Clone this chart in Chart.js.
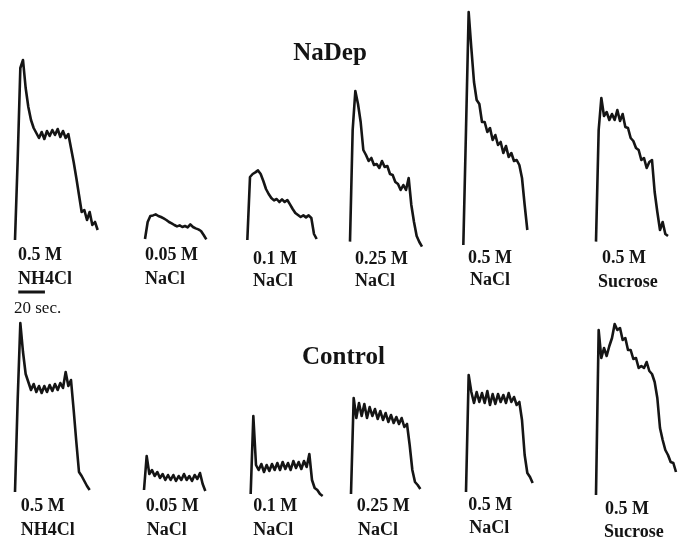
<!DOCTYPE html>
<html><head><meta charset="utf-8">
<script src="https://cdn.jsdelivr.net/npm/chart.js@4"></script>
<style>
html,body{margin:0;padding:0;background:#fff;}
#wrap{position:relative;width:684px;height:539px;overflow:hidden;background:#fff;}
canvas{position:absolute;left:0;}
.t{position:absolute;font-family:"Liberation Serif","Times New Roman",serif;color:#141414;white-space:nowrap;line-height:1;}
</style></head><body><div id="wrap">
<canvas id="topChart" width="684" height="300" style="top:0px"></canvas>
<canvas id="botChart" width="684" height="200" style="top:300px"></canvas>
</div>
<script>
// ---- DATA (response in arbitrary units, sampled every 2 s) ----
const sampleStep = 2; // seconds between samples
const concentrations = ['0.5 M','0.05 M','0.1 M','0.25 M','0.5 M','0.5 M'];
const solutes = ['NH4Cl','NaCl','NaCl','NaCl','NaCl','Sucrose'];
const groupTitles = ['NaDep','Control'];
const scaleBarSeconds = 20;
const scaleBarLabel = '20 sec.';

// NaDep row
const nadepNH4Cl   = [0,40,86,90,76,66.5,60,56,53.5,51,54,50.5,54.5,52,55,52.5,55.5,51.5,54.5,51,53,46,39,31,22.5,14,15,10,14,7.5,9,5];
const nadepNaCl005 = [0.5,9,12,12.3,12.8,12,11.5,10.8,10,9,8.3,7.5,6.8,7.3,6.5,7,6.3,7.8,6.5,5.8,5.3,4.5,2.5,0.3];
const nadepNaCl01  = [0,31.5,33,33.8,34.8,33,29.5,25.5,23,21,19.8,20.5,19,20.3,19,20,17.8,15.5,13.5,12.5,11.5,12.3,11.3,12.3,11,3,0.5];
const nadepNaCl025 = [-0.8,55,74.5,68,59,45,42.5,39.5,41,37.5,38,36,39.5,36.5,37,33,32.5,29,28,25,27.5,25,31,17.5,9,2,-1,-3.3];
const nadepNaCl05  = [-2.5,55,114,96,79,70,68,59,59,54,56,50,52.5,47.5,49,43.5,47,41.5,43.5,39.5,40,37.5,31,17.5,5];
const nadepSucrose = [-0.8,55,71,62,64,60,63,60,65,59.5,63,56.5,56,51,49.5,46,45,40,41,36,39,40,24,14,5,9,3,2];

// Control row
const ctrlNH4Cl   = [0,46,84.5,70,59,55,51,54,50,53,49.5,53,50,53.5,50.5,54,51,54.5,52,60,53,56,41,25,10,8,5.5,3,1];
const ctrlNaCl005 = [1,18,9,11,8,10,7,9,6,8.5,6,8.5,5.5,8,6,9,6,8,5.5,8.5,6.5,9.5,4,0.5];
const ctrlNaCl01  = [-1,38,13.5,11,14,10,13.5,10.5,14,11,14.5,11,15,11.5,14.5,11,15.5,12,15,11.5,15.5,12.5,19,6,2,1,-1,-2];
const ctrlNaCl025 = [-1,47,37,44.5,38,44,37,42.5,38,41.5,36.5,40.5,36,39.5,35,38.5,34.5,37.5,34,37,32.5,34,23.5,11,5,3.5,1.5];
const ctrlNaCl05  = [0,58.5,50,44.5,50,45,49.5,44.5,50.5,43.5,49,44,49,45,48.5,44.5,49.5,45,47.5,43.5,45,36,18.5,9.5,7.5,4.5];
const ctrlSucrose = [-1.5,81,67,72,68,73,77,84,81,82,76,77,71,71,66.5,67,62,63,62,65,60.5,59,55,47,32,26,21,18.5,15,14.5,10];

// ---- LAYOUT ----
const topStarts = [11.25,108.75,185.5,262.5,347.5,447];   // trace start times (s) on shared time axis
const botStarts = [11.25,108,188,263.25,349.5,447];
const scaleBarStart = 13.7;
const scaleBarLevel = -26;

const topSeries = [nadepNH4Cl,nadepNaCl005,nadepNaCl01,nadepNaCl025,nadepNaCl05,nadepSucrose];
const botSeries = [ctrlNH4Cl,ctrlNaCl005,ctrlNaCl01,ctrlNaCl025,ctrlNaCl05,ctrlSucrose];

function toPoints(vals, start){ return vals.map((v,i)=>({x:start+i*sampleStep,y:v})); }
function lineDs(data, w){
  return {data, borderColor:'#151515', borderWidth:w, pointRadius:0, tension:0, fill:false,
          borderJoinStyle:'round', borderCapStyle:'butt', clip:false};
}
function makeChart(id, series, starts, ymin, ymax, extra){
  const ds = series.map((s,k)=>lineDs(toPoints(s,starts[k]),2.6));
  if(extra) ds.push(extra);
  return new Chart(document.getElementById(id), {
    type:'line',
    data:{datasets:ds},
    options:{
      responsive:false, animation:false, devicePixelRatio:1,
      layout:{padding:0},
      plugins:{legend:{display:false}, tooltip:{enabled:false}},
      scales:{
        x:{type:'linear', min:0, max:513, display:false},
        y:{type:'linear', min:ymin, max:ymax, display:false}
      }
    }
  });
}
const bar = lineDs([{x:scaleBarStart,y:scaleBarLevel},{x:scaleBarStart+scaleBarSeconds,y:scaleBarLevel}],3);
makeChart('topChart', topSeries, topStarts, -30, 120, bar);
makeChart('botChart', botSeries, botStarts, -4, 96, null);

// ---- TEXT ----
const wrap = document.getElementById('wrap');
function txt(s, left, baseline, size, weight, center){
  const d = document.createElement('div');
  d.className='t'; d.textContent=s;
  d.style.fontSize=size+'px'; d.style.fontWeight=weight;
  d.style.left=left+'px'; d.style.top=(baseline-0.8375*size)+'px';
  if(center) d.style.transform='translateX(-50%)';
  wrap.appendChild(d);
}
const topL1x=[18,145,253,355,468,602], topL1y=[260,260,264,264,263,263];
const topL2x=[18,145,253,355,470,598], topL2y=[284,284,286,286,285,287];
const botL1x=[20.7,145.7,253.3,356.7,468.3,605], botL1y=[511.5,511.5,511.5,511.5,510,514];
const botL2x=[20.7,146.7,253.3,358,469.3,604], botL2y=[535,535,535,535,533,537];
for(let k=0;k<6;k++){
  txt(concentrations[k], topL1x[k], topL1y[k], 18, 'bold');
  txt(solutes[k], topL2x[k], topL2y[k], 18, 'bold');
  txt(concentrations[k], botL1x[k], botL1y[k], 18, 'bold');
  txt(solutes[k], botL2x[k], botL2y[k], 18, 'bold');
}
txt(groupTitles[0], 330, 60, 25, 'bold', true);
txt(groupTitles[1], 343.5, 364, 25, 'bold', true);
txt(scaleBarLabel, 14, 313, 17, 'normal');
</script></body></html>
